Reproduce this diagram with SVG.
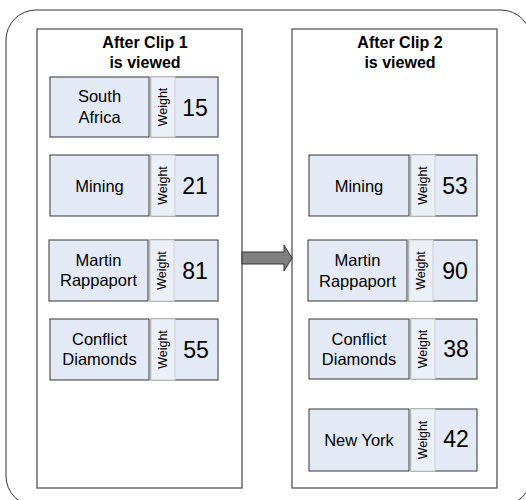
<svg xmlns="http://www.w3.org/2000/svg" width="526" height="500" viewBox="0 0 526 500">
<style>
.outer{fill:#fff;stroke:#333;stroke-width:1}
.panel{fill:#fff;stroke:#555;stroke-width:1.3}
.box{fill:#e4eaf5;stroke:#333;stroke-width:1}
.strip{fill:#ebeff7;stroke:#cfcfcf;stroke-width:1}
.title{font-family:"Liberation Sans",Arial,sans-serif;font-weight:bold;font-size:16px;fill:#000;text-anchor:middle}
.lbl{font-family:"Liberation Sans",Arial,sans-serif;font-size:16.5px;fill:#000;text-anchor:middle}
.w{font-family:"Liberation Sans",Arial,sans-serif;font-size:12.5px;fill:#000;text-anchor:middle}
.num{font-family:"Liberation Sans",Arial,sans-serif;font-size:23px;fill:#000;text-anchor:middle}
.arrow{fill:#808080;stroke:#333;stroke-width:1}
</style>
<rect class="outer" x="6" y="10" width="525" height="496" rx="30" ry="30"/>
<g id="panel1">
<rect class="panel" x="37" y="29" width="205" height="459"/>
<text class="title" x="145" y="48">After Clip 1</text>
<text class="title" x="145" y="68">is viewed</text>
</g>
<g id="panel2">
<rect class="panel" x="292" y="29" width="205" height="459"/>
<text class="title" x="400" y="48">After Clip 2</text>
<text class="title" x="400" y="68">is viewed</text>
</g>
<g id="connectors">
<path class="arrow" d="M242,252 L284,252 L284,245 L292,258 L284,271 L284,264 L242,264 Z"/>
</g>
<g id="n1-south-africa">
<rect class="box" x="50" y="77" width="99" height="60"/>
<text class="lbl" x="99.5" y="102">South</text>
<text class="lbl" x="99.5" y="122.5">Africa</text>
<rect class="box" x="151" y="77" width="67" height="60"/>
<rect class="strip" x="151" y="77" width="24" height="60"/>
<text class="w" transform="translate(166.5,107) rotate(-90)">Weight</text>
<text class="num" x="195" y="116">15</text>
</g>
<g id="n1-mining">
<rect class="box" x="50" y="155" width="99" height="61"/>
<text class="lbl" x="99.5" y="191.5">Mining</text>
<rect class="box" x="151" y="155" width="67" height="61"/>
<rect class="strip" x="151" y="155" width="24" height="61"/>
<text class="w" transform="translate(166.5,185.5) rotate(-90)">Weight</text>
<text class="num" x="195" y="194">21</text>
</g>
<g id="n1-martin-rappaport">
<rect class="box" x="49" y="240" width="99" height="61"/>
<text class="lbl" x="98.5" y="265.5">Martin</text>
<text class="lbl" x="98.5" y="286">Rappaport</text>
<rect class="box" x="150" y="240" width="68" height="61"/>
<rect class="strip" x="150" y="240" width="24" height="61"/>
<text class="w" transform="translate(165.5,270.5) rotate(-90)">Weight</text>
<text class="num" x="195" y="278.5">81</text>
</g>
<g id="n1-conflict-diamonds">
<rect class="box" x="50" y="319" width="99" height="61"/>
<text class="lbl" x="99.5" y="344.5">Conflict</text>
<text class="lbl" x="99.5" y="364.5">Diamonds</text>
<rect class="box" x="151" y="319" width="67" height="61"/>
<rect class="strip" x="151" y="319" width="24" height="61"/>
<text class="w" transform="translate(166.5,349.5) rotate(-90)">Weight</text>
<text class="num" x="196" y="357.5">55</text>
</g>
<g id="n2-mining">
<rect class="box" x="309" y="155" width="100" height="61"/>
<text class="lbl" x="359" y="192">Mining</text>
<rect class="box" x="411" y="155" width="66" height="61"/>
<rect class="strip" x="411" y="155" width="24" height="61"/>
<text class="w" transform="translate(426.5,185.5) rotate(-90)">Weight</text>
<text class="num" x="455" y="194">53</text>
</g>
<g id="n2-martin-rappaport">
<rect class="box" x="308" y="240" width="99" height="61"/>
<text class="lbl" x="357.5" y="266">Martin</text>
<text class="lbl" x="357.5" y="286.5">Rappaport</text>
<rect class="box" x="409" y="240" width="68" height="61"/>
<rect class="strip" x="409" y="240" width="24" height="61"/>
<text class="w" transform="translate(424.5,270.5) rotate(-90)">Weight</text>
<text class="num" x="455" y="279">90</text>
</g>
<g id="n2-conflict-diamonds">
<rect class="box" x="309" y="319" width="100" height="60"/>
<text class="lbl" x="359" y="345">Conflict</text>
<text class="lbl" x="359" y="364.5">Diamonds</text>
<rect class="box" x="411" y="319" width="66" height="60"/>
<rect class="strip" x="411" y="319" width="24" height="60"/>
<text class="w" transform="translate(426.5,349) rotate(-90)">Weight</text>
<text class="num" x="456" y="357">38</text>
</g>
<g id="n2-new-york">
<rect class="box" x="309" y="409" width="100" height="62"/>
<text class="lbl" x="359" y="445.5">New York</text>
<rect class="box" x="411" y="409" width="66" height="62"/>
<rect class="strip" x="411" y="409" width="24" height="62"/>
<text class="w" transform="translate(426.5,440) rotate(-90)">Weight</text>
<text class="num" x="456" y="447">42</text>
</g>
</svg>
